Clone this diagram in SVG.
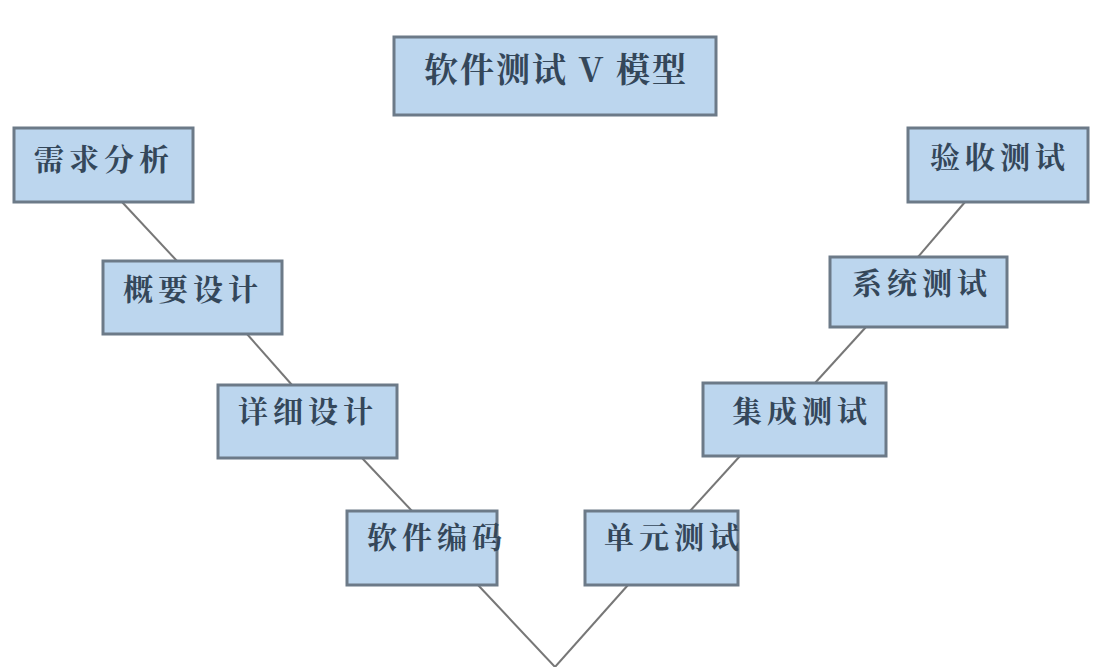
<svg xmlns="http://www.w3.org/2000/svg" width="1109" height="667" viewBox="0 0 1109 667">
<style>
rect{fill:#bcd6ee;stroke:#6c7a88;stroke-width:3}
text{font-family:"Noto Serif CJK SC","Noto Sans CJK SC",serif;font-size:30px;letter-spacing:5px;fill:#34475a;text-anchor:middle;font-weight:bold}
.c line{stroke:#777;stroke-width:2}
</style>
<rect width="1109" height="667" style="stroke:none;fill:#fff"/>
<g class="c">
<line x1="122" y1="202" x2="177" y2="261"/>
<line x1="247" y1="334" x2="292" y2="385"/>
<line x1="362" y1="458" x2="412" y2="511"/>
<line x1="478" y1="585" x2="555" y2="667"/>
<line x1="628" y1="585" x2="555" y2="667"/>
<line x1="740" y1="456" x2="690" y2="511"/>
<line x1="866" y1="327" x2="815" y2="383"/>
<line x1="965" y1="202" x2="918" y2="257"/>
</g>
<g id="title"><rect x="394" y="37" width="322" height="78"/><text x="556" y="82" style="font-size:34px;letter-spacing:2px">软件测试 V 模型</text></g>
<g id="n1"><rect x="14" y="128" width="179" height="74"/><text x="104" y="170">需求分析</text></g>
<g id="n2"><rect x="103" y="261" width="179" height="73"/><text x="193" y="300">概要设计</text></g>
<g id="n3"><rect x="218" y="385" width="179" height="73"/><text x="308" y="422">详细设计</text></g>
<g id="n4"><rect x="347" y="511" width="150" height="74"/><text x="437" y="548">软件编码</text></g>
<g id="n5"><rect x="585" y="511" width="153" height="74"/><text x="674" y="548">单元测试</text></g>
<g id="n6"><rect x="703" y="383" width="183" height="73"/><text x="802" y="422">集成测试</text></g>
<g id="n7"><rect x="830" y="257" width="177" height="70"/><text x="922" y="294">系统测试</text></g>
<g id="n8"><rect x="908" y="128" width="180" height="74"/><text x="1000" y="168">验收测试</text></g>
</svg>
